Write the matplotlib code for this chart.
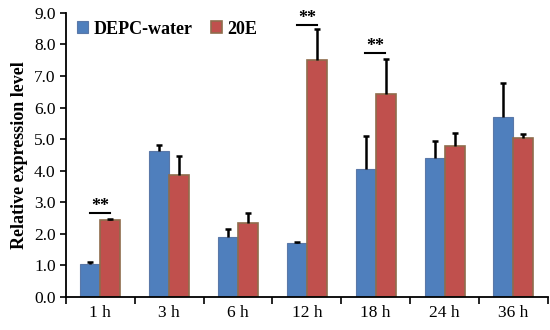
import numpy as np
import matplotlib.pyplot as plt

categories = ["1 h", "3 h", "6 h", "12 h", "18 h", "24 h", "36 h"]
depc_water = [1.05, 4.62, 1.90, 1.72, 4.07, 4.40, 5.70]
depc_err = [0.05, 0.19, 0.25, 0.03, 1.03, 0.53, 1.08]
e20 = [2.45, 3.88, 2.35, 7.50, 6.42, 4.77, 5.05]
e20_err = [0.03, 0.60, 0.32, 1.00, 1.13, 0.43, 0.12]
# significance marks: category index -> height of bar line
sig_idx = [0, 3, 4]
sig_y = [2.66, 8.60, 7.72]

plt.rcParams['font.family'] = ['Liberation Serif', 'DejaVu Serif']

fig = plt.figure(figsize=(5.5, 3.3), dpi=100)
ax = fig.add_axes([0.12, 0.1, 0.876, 0.861])

x = np.arange(len(categories))
w = 0.29
blue = '#4f7fbd'
red = '#c0504d'

ax.bar(x - w/2, depc_water, w, color=blue, edgecolor='#5a78a8', linewidth=0.8, label='DEPC-water')
ax.bar(x + w/2, e20, w, color=red, edgecolor='#8f6c4c', linewidth=1.2, label='20E')

# upward-only error bars, hide the lower cap
for xs, ys, es in [(x - w/2, depc_water, depc_err), (x + w/2, e20, e20_err)]:
    eb = ax.errorbar(xs, ys, yerr=[np.zeros(len(x)), es], fmt='none',
                     ecolor='black', elinewidth=1.8, capsize=2.5, capthick=1.8)
    eb[1][0].set_visible(False)

for i, yv in zip(sig_idx, sig_y):
    ax.plot([i - 0.15, i + 0.14], [yv, yv], color='black', lw=1.5)
    ax.text(i, yv - 0.05, '**', ha='center', va='bottom', fontsize=13, fontweight='bold')

ax.set_xlim(-0.5, len(categories) - 0.5)
ax.set_ylim(0, 9)
ax.set_yticks(np.arange(0, 9.1, 1.0))
ax.set_yticklabels([f'{v:.1f}' for v in np.arange(0, 9.1, 1.0)], fontsize=12.5)
ax.set_xticks(np.arange(len(categories) + 1) - 0.5)
ax.set_xticklabels([])
ax.set_xticks(x, minor=True)
ax.set_xticklabels(categories, minor=True, fontsize=12.5)
ax.tick_params(axis='x', which='minor', length=0, pad=6)
ax.tick_params(axis='x', which='major', length=5, width=1.2, direction='out')
ax.tick_params(axis='y', length=4, width=1.2, direction='out')
ax.spines['top'].set_visible(False)
ax.spines['right'].set_visible(False)
ax.spines['left'].set_linewidth(1.3)
ax.spines['bottom'].set_linewidth(1.3)
ax.set_ylabel('Relative expression level', fontsize=13, fontweight='bold', labelpad=4)

ax.legend(loc='upper left', bbox_to_anchor=(-0.01, 1.03), ncol=2, frameon=False,
          prop={'weight': 'bold', 'size': 13}, handlelength=0.6, handleheight=0.6,
          handletextpad=0.3, columnspacing=1.0)

fig.savefig('out.png', dpi=100)
